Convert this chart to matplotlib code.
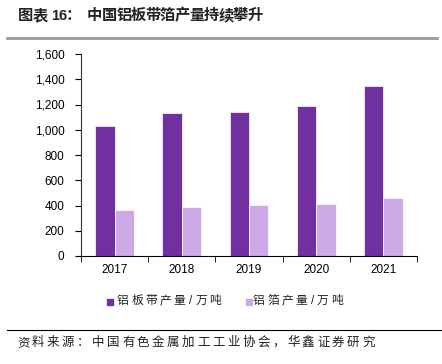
import matplotlib
matplotlib.use("Agg")
import matplotlib.pyplot as plt
from matplotlib.lines import Line2D
from matplotlib.patches import Rectangle
import numpy as np

plt.rcParams['font.family'] = ['Liberation Sans', 'Noto Sans CJK SC', 'DejaVu Sans']

years = ['2017', '2018', '2019', '2020', '2021']
sheet_strip = [1032, 1130, 1141, 1191, 1344]   # 铝板带产量/万吨
foil = [364, 390, 401, 414, 457]               # 铝箔产量/万吨
series_names = ['铝板带产量/万吨', '铝箔产量/万吨']
colors = ['#7030A0', '#CDAAE6']
title_prefix = '图表'
title_num = '16：'
title_body = '中国铝板带箔产量持续攀升'
source = '资料来源：中国有色金属加工工业协会，华鑫证券研究'

W, H = 442, 364
fig = plt.figure(figsize=(W / 100, H / 100), dpi=100)


def spaced(x, y, text, pitch, **kw):
    # draw text char by char with a fixed pitch (pixels), like the wide CJK fonts in the source
    for ch in text:
        if ord(ch) > 255:
            fig.text(x / W, 1 - y / H, ch, ha='left', va='center', **kw)
            x += pitch
        else:
            fig.text((x + pitch * 0.1) / W, 1 - y / H, ch, ha='left', va='center', **kw)
            x += pitch * 0.5


ax = fig.add_axes([81 / W, 1 - 256 / H, (417 - 81) / W, (256 - 54) / H])

x = np.arange(len(years))
w = 0.29
ax.bar(x - w / 2, sheet_strip, w, color=colors[0], edgecolor='white', linewidth=0.5)
ax.bar(x + w / 2, foil, w, color=colors[1], edgecolor='white', linewidth=0.5)

ax.set_xlim(-0.5, len(years) - 0.5)
ax.set_ylim(0, 1600)
ax.set_yticks(np.arange(0, 1601, 200))
ax.set_yticklabels([f'{v:,}' for v in range(0, 1601, 200)], fontsize=8.5)
ax.set_xticks(x)
ax.set_xticklabels(years, fontsize=8.5)
ax.tick_params(axis='x', which='major', length=0, pad=6)
ax.set_xticks(np.arange(-0.5, len(years)), minor=True)
ax.tick_params(axis='x', which='minor', length=4, direction='out', color='black')
ax.tick_params(axis='y', length=4, direction='out', color='black', pad=8)
for s in ['top', 'right']:
    ax.spines[s].set_visible(False)
ax.spines['left'].set_color('#333333')
ax.spines['bottom'].set_color('black')

# legend, drawn by hand to get the wide character spacing
for (mx, tx), name, c in zip([(107, 117), (246, 253)], series_names, colors):
    fig.add_artist(Rectangle((mx / W, 1 - 305 / H), 6 / W, 6 / H, color=c,
                             transform=fig.transFigure))
    spaced(tx, 301, name, 14.2, fontsize=8.5, color='#222222')

# title
spaced(18, 16, title_prefix, 15, fontsize=11, fontweight='bold', color='#222222')
fig.text(51 / W, 1 - 16 / H, title_num[:2], fontsize=10.5, fontweight='bold',
         va='center', ha='left', color='#222222')
fig.text(66 / W, 1 - 16 / H, title_num[2:], fontsize=11, fontweight='bold',
         va='center', ha='left', color='#222222')
spaced(87, 16, title_body, 14.6, fontsize=11, fontweight='bold', color='#222222')

fig.add_artist(Line2D([7 / W, 437 / W], [1 - 38 / H, 1 - 38 / H], color='#999999', linewidth=2))
fig.add_artist(Line2D([7 / W, 1.0], [1 - 330 / H, 1 - 330 / H], color='black', linewidth=0.8))
spaced(17, 343, source, 15, fontsize=9, color='#222222')

fig.savefig('out.png', dpi=100)
